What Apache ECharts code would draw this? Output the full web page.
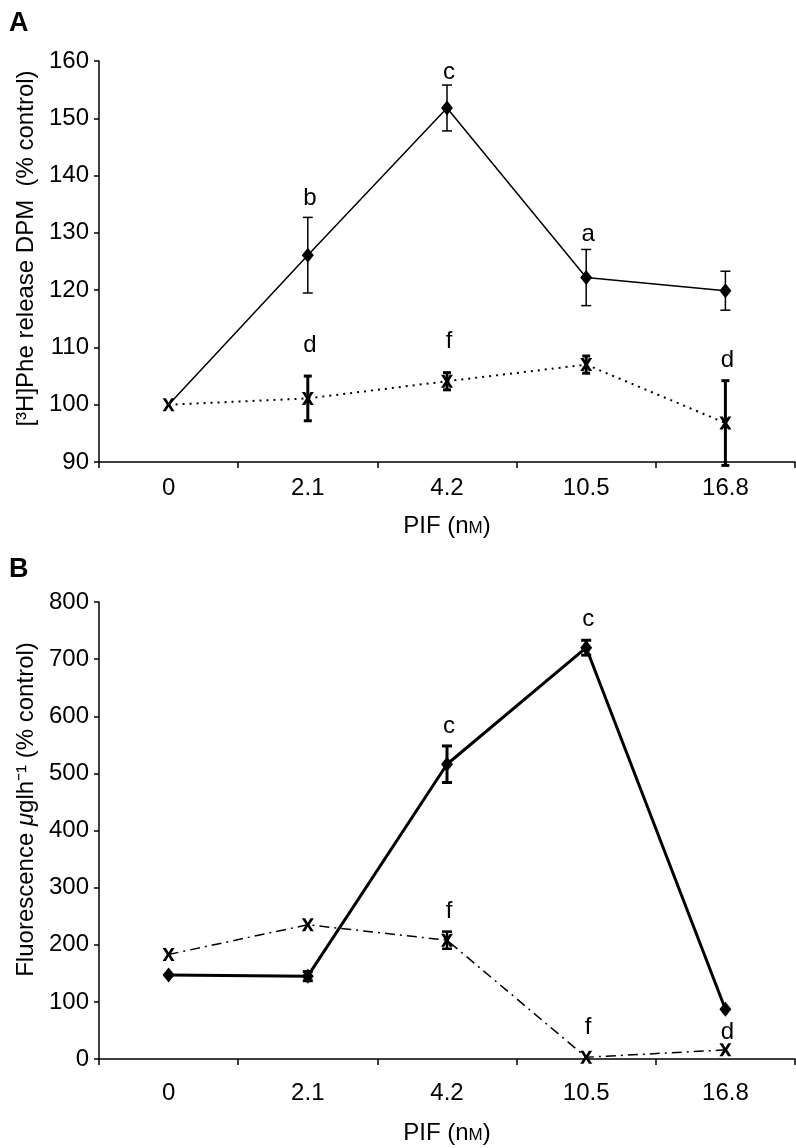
<!DOCTYPE html>
<html>
<head>
<meta charset="utf-8">
<script src="https://cdn.jsdelivr.net/npm/echarts@6/dist/echarts.min.js"></script>
<style>
  html, body { margin: 0; padding: 0; background: #fff; }
  #chart { width: 796px; height: 1148px; }
</style>
</head>
<body>
<div id="chart"></div>
<script>
// PIF concentrations (nM)
const categories = ['0', '2.1', '4.2', '10.5', '16.8']

// panel A: [3H]Phe release, % control
const aSolid = [100, 126.1, 151.8, 122.2, 119.9]
const aSolidErr = [0, 6.6, 4.0, 4.9, 3.4]
const aDotted = [100, 101.1, 104.1, 107.0, 96.8]
const aDottedErr = [0, 3.9, 1.5, 1.5, 7.4]
const aLetters = ['b', 'c', 'a', 'd', 'f', 'd']
const aLetterX = [1, 2, 3, 1, 2, 4]
const aLetterY = [136.1, 158, 129.7, 110.3, 111.1, 107.7]

// panel B: fluorescence, % control
const bSolid = [147, 145, 516, 720, 87]
const bSolidErr = [0, 8, 32, 13, 0]
const bDashDot = [183, 235, 208, 3, 16]
const bDashDotErr = [0, 0, 15, 0, 0]
const bLetters = ['c', 'c', 'f', 'f', 'd']
const bLetterX = [2, 3, 2, 3, 4]
const bLetterY = [583, 769, 258, 55, 47]

const FONT = '"Liberation Sans", Arial, Helvetica, sans-serif'
const FS = 24
// bold "x" marker
const xMark = 'path://M0,0 L2.8,0 L5,3.4 L7.2,0 L10,0 L6.5,5 L10,10 L7.2,10 L5,6.6 L2.8,10 L0,10 L3.5,5 Z'

function errData(vals, errs) {
  const out = []
  vals.forEach((v, i) => {
    if (errs[i] > 0) out.push([i, v - errs[i], v + errs[i]])
  })
  return out
}

// vertical bar with caps between the two values
function errBar(capHalf, lw) {
  return function (params, api) {
    const x = api.value(0)
    const lo = api.coord([x, api.value(1)])
    const hi = api.coord([x, api.value(2)])
    const style = { stroke: '#000', lineWidth: lw }
    return {
      type: 'group',
      children: [
        { type: 'line', shape: { x1: lo[0], y1: lo[1], x2: hi[0], y2: hi[1] }, style },
        { type: 'line', shape: { x1: lo[0] - capHalf, y1: lo[1], x2: lo[0] + capHalf, y2: lo[1] }, style },
        { type: 'line', shape: { x1: hi[0] - capHalf, y1: hi[1], x2: hi[0] + capHalf, y2: hi[1] }, style }
      ]
    }
  }
}

function letterSeries(idx, xs, ys, letters) {
  return {
    type: 'custom',
    xAxisIndex: idx,
    yAxisIndex: idx,
    data: xs.map((x, i) => [x, ys[i]]),
    z: 10,
    renderItem(params, api) {
      const p = api.coord([api.value(0), api.value(1)])
      return {
        type: 'text',
        style: {
          text: letters[params.dataIndex],
          x: p[0] + 2,
          y: p[1],
          align: 'center',
          verticalAlign: 'middle',
          fill: '#000',
          font: FS + 'px ' + FONT
        }
      }
    }
  }
}

function xAxisOf(idx) {
  return {
    type: 'category',
    gridIndex: idx,
    data: categories,
    boundaryGap: true,
    name: '{a|PIF (n}{s|M}{a|)}',
    nameLocation: 'middle',
    nameGap: idx === 0 ? 52 : 62,
    nameTextStyle: {
      rich: {
        a: { fontSize: FS, fontFamily: FONT, color: '#000' },
        s: { fontSize: 17, fontFamily: FONT, color: '#000', padding: [5, 0, 0, 0] }
      }
    },
    axisLine: { lineStyle: { color: '#000', width: 1.5 } },
    axisTick: { show: true, length: 6, lineStyle: { color: '#000', width: 1.5 } },
    axisLabel: { color: '#000', fontSize: FS, fontFamily: FONT, margin: idx === 0 ? 14 : 22 },
    splitLine: { show: false }
  }
}

const chart = echarts.init(document.getElementById('chart'), null, { renderer: 'canvas' })

chart.setOption({
  animation: false,
  backgroundColor: '#fff',
  graphic: [
    { type: 'text', left: 9, top: 10, style: { text: 'A', font: 'bold 27px ' + FONT, fill: '#000' } },
    { type: 'text', left: 9, top: 556, style: { text: 'B', font: 'bold 27px ' + FONT, fill: '#000' } }
  ],
  grid: [
    { left: 99, right: 1, top: 61, bottom: 686 },
    { left: 99, right: 1, top: 602, bottom: 89 }
  ],
  xAxis: [xAxisOf(0), xAxisOf(1)],
  yAxis: [
    {
      type: 'value',
      gridIndex: 0,
      min: 90,
      max: 160,
      interval: 10,
      name: '[³H]Phe release DPM  (% control)',
      nameLocation: 'middle',
      nameGap: 60,
      nameTextStyle: { fontSize: FS, fontFamily: FONT, color: '#000', padding: [0, 0, 0, 26] },
      axisLine: { show: true, lineStyle: { color: '#000', width: 1.5 } },
      axisTick: { show: true, length: 5, lineStyle: { color: '#000', width: 1.5 } },
      axisLabel: { color: '#000', fontSize: FS, fontFamily: FONT, margin: 10 },
      splitLine: { show: false }
    },
    {
      type: 'value',
      gridIndex: 1,
      min: 0,
      max: 800,
      interval: 100,
      name: '{n|Fluorescence }{i|μ}{n|glh⁻¹ (% control)}',
      nameLocation: 'middle',
      nameGap: 56,
      nameTextStyle: {
        padding: [0, 0, 0, 42],
        rich: {
          n: { fontSize: FS, fontFamily: FONT, color: '#000' },
          i: { fontSize: FS, fontFamily: FONT, fontStyle: 'italic', color: '#000' }
        }
      },
      axisLine: { show: true, lineStyle: { color: '#000', width: 1.5 } },
      axisTick: { show: true, length: 5, lineStyle: { color: '#000', width: 1.5 } },
      axisLabel: { color: '#000', fontSize: FS, fontFamily: FONT, margin: 10 },
      splitLine: { show: false }
    }
  ],
  series: [
    // panel A
    {
      type: 'line',
      xAxisIndex: 0,
      yAxisIndex: 0,
      data: aSolid.map((v, i) => (i === 0 ? { value: v, symbol: 'none' } : v)),
      symbol: 'diamond',
      symbolSize: [12, 15],
      lineStyle: { color: '#000', width: 1.5 },
      itemStyle: { color: '#000' },
      z: 4
    },
    {
      type: 'line',
      xAxisIndex: 0,
      yAxisIndex: 0,
      data: aDotted,
      symbol: xMark,
      symbolSize: [12, 13],
      lineStyle: { color: '#000', width: 2, type: [2, 5] },
      itemStyle: { color: '#000' },
      z: 5
    },
    {
      type: 'custom',
      xAxisIndex: 0,
      yAxisIndex: 0,
      data: errData(aSolid, aSolidErr),
      encode: { x: 0, y: [1, 2] },
      renderItem: errBar(5, 1.5),
      z: 3
    },
    {
      type: 'custom',
      xAxisIndex: 0,
      yAxisIndex: 0,
      data: errData(aDotted, aDottedErr),
      encode: { x: 0, y: [1, 2] },
      renderItem: errBar(4, 3),
      clip: false,
      z: 3
    },
    letterSeries(0, aLetterX, aLetterY, aLetters),
    // panel B
    {
      type: 'line',
      xAxisIndex: 1,
      yAxisIndex: 1,
      data: bSolid,
      symbol: 'diamond',
      symbolSize: [12, 15],
      lineStyle: { color: '#000', width: 3 },
      itemStyle: { color: '#000' },
      z: 4
    },
    {
      type: 'line',
      xAxisIndex: 1,
      yAxisIndex: 1,
      data: bDashDot,
      symbol: xMark,
      symbolSize: [12, 13],
      lineStyle: { color: '#000', width: 1.5, type: [10, 5, 2, 5] },
      itemStyle: { color: '#000' },
      z: 5
    },
    {
      type: 'custom',
      xAxisIndex: 1,
      yAxisIndex: 1,
      data: errData(bSolid, bSolidErr),
      encode: { x: 0, y: [1, 2] },
      renderItem: errBar(5, 3),
      z: 3
    },
    {
      type: 'custom',
      xAxisIndex: 1,
      yAxisIndex: 1,
      data: errData(bDashDot, bDashDotErr),
      encode: { x: 0, y: [1, 2] },
      renderItem: errBar(5, 2.5),
      z: 3
    },
    letterSeries(1, bLetterX, bLetterY, bLetters)
  ]
})
</script>
</body>
</html>
